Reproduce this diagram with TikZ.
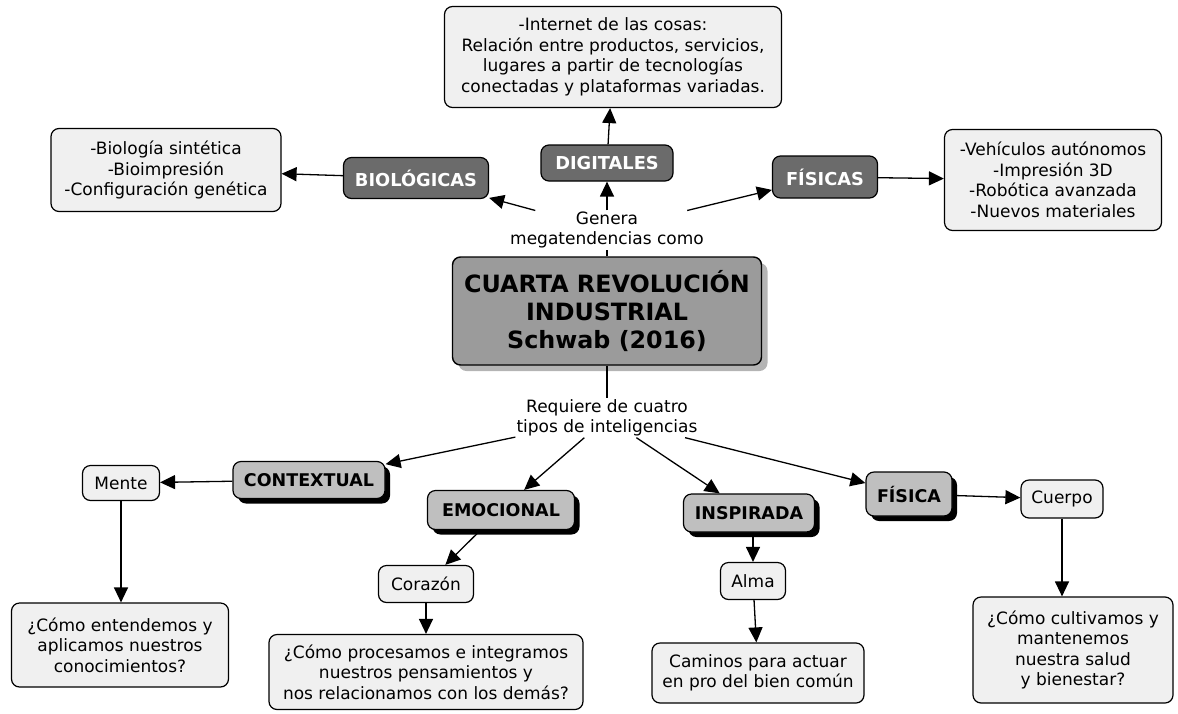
\documentclass[tikz,border=0pt]{standalone}
\usepackage{fontspec}
\setmainfont{DejaVu Sans}
\usetikzlibrary{arrows.meta,shadows}
\definecolor{boxfill}{HTML}{F0F0F0}
\definecolor{darkfill}{HTML}{6B6B6B}
\definecolor{mainfill}{HTML}{9B9B9B}
\definecolor{mainshadow}{HTML}{B4B4B4}
\definecolor{intelfill}{HTML}{BFBFBF}
\begin{document}
\begin{tikzpicture}[x=1pt,y=-1pt,
  sz/.style 2 args={minimum width=#1pt,minimum height=#2pt},
  textbox/.style={draw,rounded corners=8pt,fill=boxfill,line width=1.2pt,align=center,
    inner sep=2pt,font=\fontsize{17}{20.5}\selectfont},
  darkbox/.style={draw,rounded corners=8pt,fill=darkfill,text=white,line width=1.2pt,
    inner sep=2pt,font=\bfseries\fontsize{17.8}{20}\selectfont},
  intelbox/.style={draw,rounded corners=8pt,fill=intelfill,line width=1.2pt,inner sep=2pt,
    font=\bfseries\fontsize{17.5}{20}\selectfont,
    drop shadow={shadow xshift=5pt,shadow yshift=-5pt,fill=black,opacity=1}},
  mainbox/.style={draw,rounded corners=8pt,fill=mainfill,line width=1.4pt,align=center,
    font=\bfseries\fontsize{23.8}{28}\selectfont,
    drop shadow={shadow xshift=6pt,shadow yshift=-6pt,fill=mainshadow,opacity=1}},
  linklabel/.style={align=center,inner sep=1pt,font=\fontsize{17}{20.5}\selectfont},
  arr/.style={-{Triangle[length=15pt,width=14pt]},line width=1.3pt},
  plain/.style={line width=1.3pt}]
\useasboundingbox (0,0) rectangle (1178,713);

% central concept
\node[mainbox,sz={309}{108}] (main) at (607,311)
  {CUARTA REVOLUCIÓN\\INDUSTRIAL\\Schwab (2016)};

% upper branch: megatrends
\node[linklabel] (gen) at (607,230) {Genera\\megatendencias como};
\node[darkbox,sz={132}{36}] (dig) at (607,163) {DIGITALES};
\node[darkbox,sz={145}{41}] (bio) at (416,178) {BIOLÓGICAS};
\node[darkbox,sz={105}{42}] (fis) at (825,177) {FÍSICAS};
\node[textbox,sz={337}{101}] (net) at (613,57)
  {-Internet de las cosas:\\Relación entre productos, servicios,\\lugares a partir de tecnologías\\conectadas y plataformas variadas.};
\node[textbox,sz={230}{83}] (biolist) at (166,170)
  {-Biología sintética\\-Bioimpresión\\-Configuración genética};
\node[textbox,sz={217}{101}] (fislist) at (1053,180)
  {-Vehículos autónomos\\-Impresión 3D\\-Robótica avanzada\\-Nuevos materiales};

% lower branch: intelligences
\node[linklabel] (req) at (607,418) {Requiere de cuatro\\tipos de inteligencias};
\node[intelbox,sz={152}{37}] (ctx) at (309,480) {CONTEXTUAL};
\node[intelbox,sz={147}{39}] (emo) at (501,510) {EMOCIONAL};
\node[intelbox,sz={131}{38}] (ins) at (749,513) {INSPIRADA};
\node[intelbox,sz={86}{44}] (fsc) at (909,494) {FÍSICA};

\node[textbox,sz={77}{35}] (mente) at (121,483) {Mente};
\node[textbox,sz={95}{37}] (cor) at (426,584) {Corazón};
\node[textbox,sz={65}{37}] (alma) at (753,581) {Alma};
\node[textbox,sz={82}{38}] (cuerpo) at (1062,499) {Cuerpo};

\node[textbox,sz={217}{84}] (ent) at (120,645)
  {¿Cómo entendemos y\\aplicamos nuestros\\conocimientos?};
\node[textbox,sz={314}{75}] (proc) at (426,672)
  {¿Cómo procesamos e integramos\\nuestros pensamientos y\\nos relacionamos con los demás?};
\node[textbox,sz={212}{60}] (cam) at (758,673)
  {Caminos para actuar\\en pro del bien común};
\node[textbox,sz={200}{106}] (cult) at (1073,650)
  {¿Cómo cultivamos y\\mantenemos\\nuestra salud\\y bienestar?};

% connectors, upper part
\draw[plain] (main) -- (gen);
\draw[arr] (gen) -- (dig);
\draw[arr] (gen) -- (bio);
\draw[arr] (gen) -- (fis);
\draw[arr] (dig) -- (net);
\draw[arr] (bio) -- (biolist);
\draw[arr] (fis) -- (fislist);

% connectors, lower part
\draw[plain] (main) -- (req);
\draw[arr] (req) -- (ctx);
\draw[arr] (req) -- (emo);
\draw[arr] (req) -- (ins);
\draw[arr] (req) -- (fsc);
\draw[arr] (ctx) -- (mente);
\draw[arr] (emo) -- (cor);
\draw[arr] (alma |- ins.south) -- (alma);
\draw[arr] (fsc) -- (cuerpo);
\draw[arr] (mente) -- (mente |- ent.north);
\draw[arr] (cor) -- (proc);
\draw[arr] (alma) -- (cam);
\draw[arr] (cuerpo) -- (cuerpo |- cult.north);
\end{tikzpicture}
\end{document}
